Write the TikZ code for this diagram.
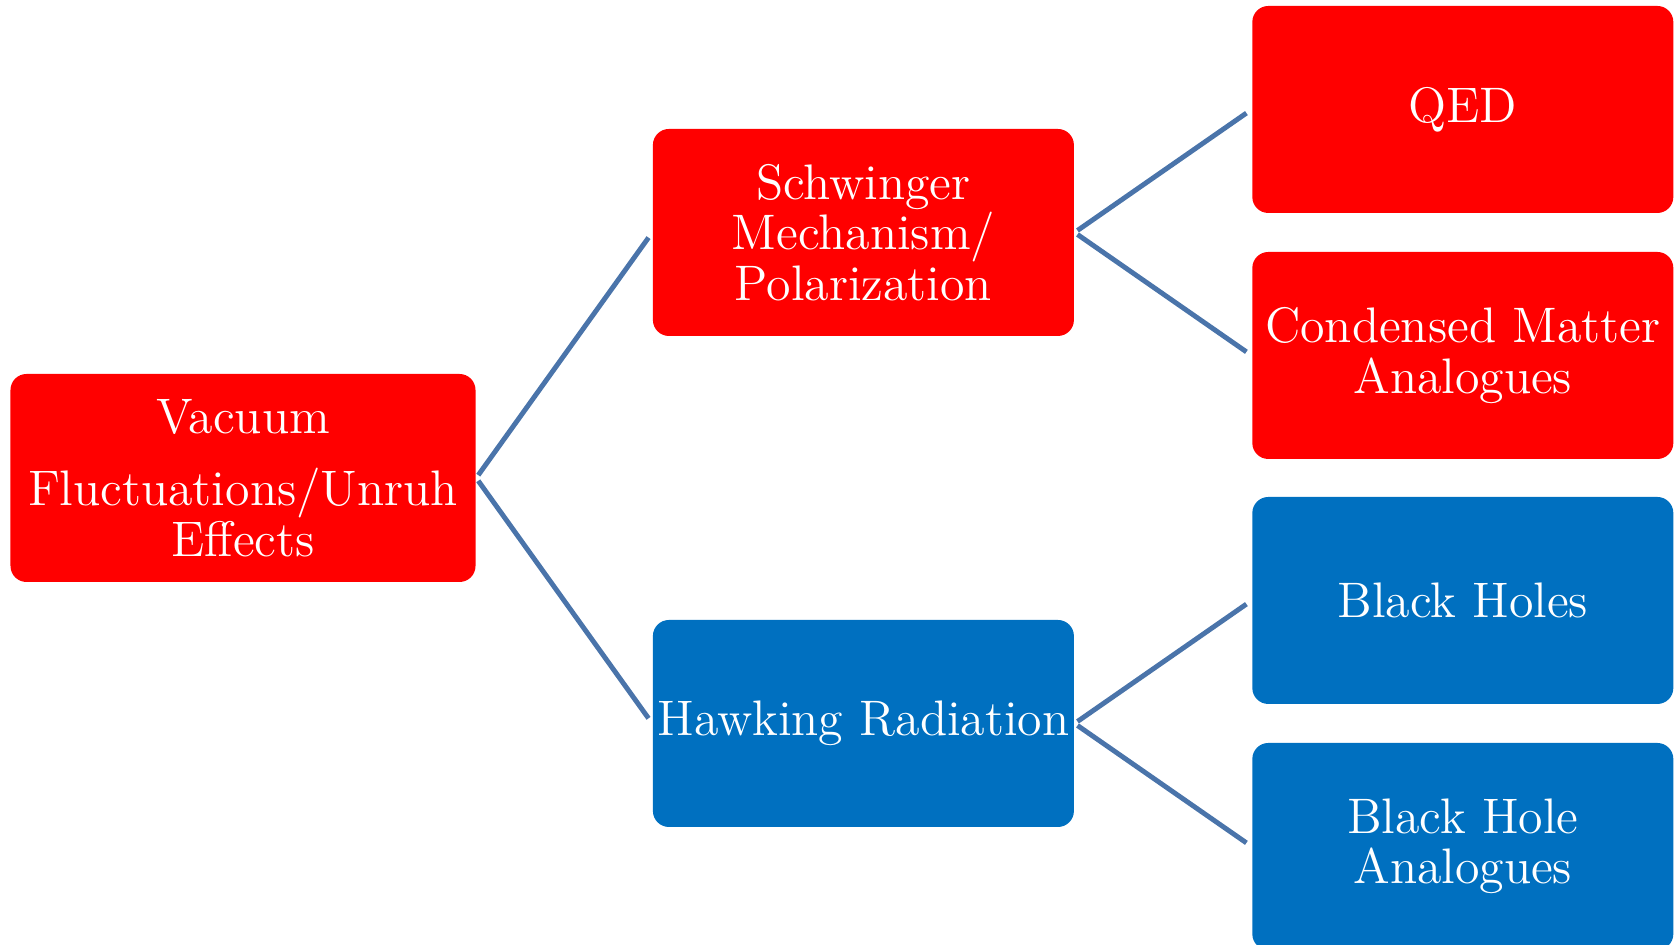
\documentclass[tikz,border=0pt]{standalone}
\usepackage{xcolor}
\usepackage{tikz}
\usetikzlibrary{positioning}
\definecolor{vacred}{HTML}{FF0000}
\definecolor{vacblue}{HTML}{0070C0}
\definecolor{vacline}{HTML}{4A74AA}

\begin{document}
\begin{tikzpicture}[
  every node/.style={font=\fontsize{14.2}{14.3}\selectfont, text=white},
  boxbase/.style={rectangle, rounded corners=0.16cm, minimum width=4.21cm, minimum height=2.07cm, inner sep=0pt, align=center},
  redbox/.style={boxbase, fill=vacred},
  bluebox/.style={boxbase, fill=vacblue},
  link/.style={draw=vacline, line width=1.4pt, shorten <=1pt, shorten >=1.8pt}
]
  \useasboundingbox (0,0) rectangle (16.77,9.45);
  \node[redbox, minimum width=4.65cm, minimum height=2.08cm] (vacuum) at (2.43,4.67) {Vacuum\\[0.22cm]Fluctuations/Unruh\\Effects};
  \node[redbox, right=1.76cm of vacuum, yshift=2.455cm] (schwinger) {Schwinger\\Mechanism/\\Polarization};
  \node[bluebox, right=1.76cm of vacuum, yshift=-2.455cm] (hawking) {Hawking Radiation};
  \node[redbox, right=1.77cm of schwinger, yshift=1.23cm] (qed) {QED};
  \node[redbox, right=1.77cm of schwinger, yshift=-1.23cm] (condensed) {Condensed Matter\\Analogues};
  \node[bluebox, right=1.77cm of hawking, yshift=1.23cm] (blackholes) {Black Holes};
  \node[bluebox, right=1.77cm of hawking, yshift=-1.23cm] (bhanalog) {Black Hole\\Analogues};

  \draw[link] (vacuum.east) -- (schwinger.west);
  \draw[link] (vacuum.east) -- (hawking.west);
  \draw[link] (schwinger.east) -- (qed.west);
  \draw[link] (schwinger.east) -- (condensed.west);
  \draw[link] (hawking.east) -- (blackholes.west);
  \draw[link] (hawking.east) -- (bhanalog.west);
\end{tikzpicture}
\end{document}
